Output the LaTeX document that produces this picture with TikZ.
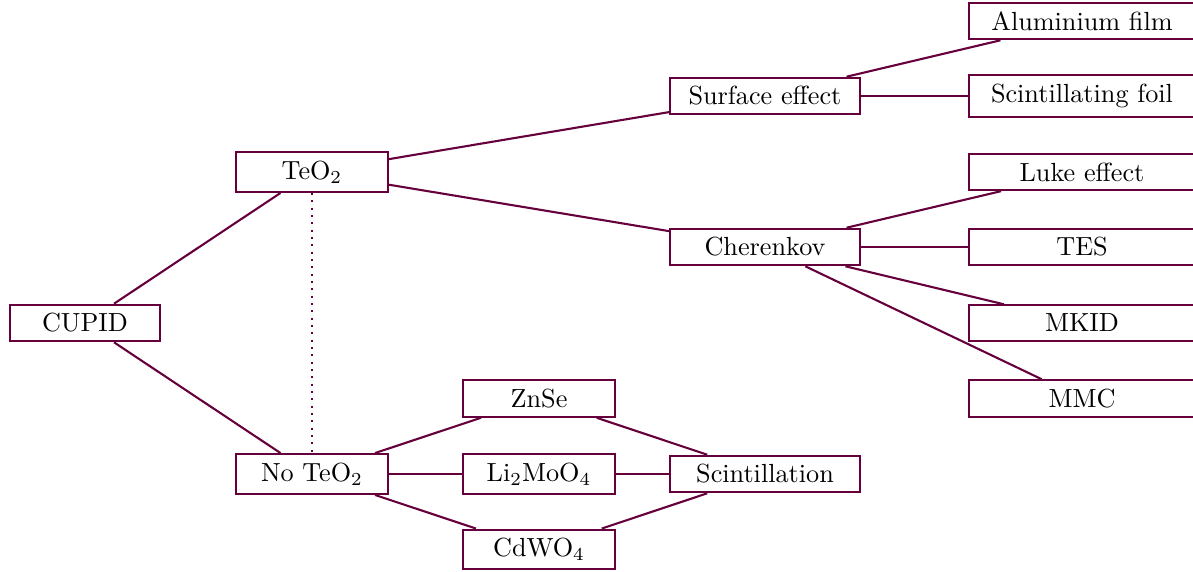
\documentclass[tikz,border=0pt]{standalone}
\usepackage{tikz}
\definecolor{cmaroon}{RGB}{102,0,60}
\begin{document}
\begin{tikzpicture}[x=0.3817pt,y=-0.3817pt,
  box/.style={draw=cmaroon,line width=0.8pt,fill=white,inner sep=3.33pt,minimum width=#1},
  box/.default=58pt,
  conn/.style={draw=cmaroon,line width=0.8pt},
  dotconn/.style={draw=cmaroon,line width=0.8pt,dotted}]
\useasboundingbox (0,0) rectangle (1193,571);
% nodes
\node[box=57.5pt] (cupid) at (85,323) {CUPID};
\node[box] (teo) at (312,172) {TeO$_2$};
\node[box] (noteo) at (312,474) {No TeO$_2$};
\node[box] (znse) at (539,398.5) {ZnSe};
\node[box] (limo) at (539,474) {Li$_2$MoO$_4$};
\node[box] (cdwo) at (539,549.5) {CdWO$_4$};
\node[box=72.5pt] (scint) at (765,474) {Scintillation};
\node[box=72.5pt] (surf) at (765,96) {Surface effect};
\node[box=72.5pt] (cher) at (765,247) {Cherenkov};
\node[box=86.3pt] (alu) at (1082,21) {Aluminium film};
\node[box=86.3pt] (foil) at (1082,96) {Scintillating foil};
\node[box=86.3pt] (luke) at (1082,172) {Luke effect};
\node[box=86.3pt] (tes) at (1082,247) {TES};
\node[box=86.3pt] (mkid) at (1082,323) {MKID};
\node[box=86.3pt] (mmc) at (1082,398.5) {MMC};
% connectors
\draw[conn] (cupid) -- (teo);
\draw[conn] (cupid) -- (noteo);
\draw[dotconn] (teo) -- (noteo);
\draw[conn] (teo) -- (surf);
\draw[conn] (teo) -- (cher);
\draw[conn] (surf) -- (alu);
\draw[conn] (surf) -- (foil);
\draw[conn] (cher) -- (luke);
\draw[conn] (cher) -- (tes);
\draw[conn] (cher) -- (mkid);
\draw[conn] (cher) -- (mmc);
\draw[conn] (noteo) -- (znse);
\draw[conn] (noteo) -- (limo);
\draw[conn] (noteo) -- (cdwo);
\draw[conn] (znse) -- (scint);
\draw[conn] (limo) -- (scint);
\draw[conn] (cdwo) -- (scint);
\end{tikzpicture}
\end{document}
